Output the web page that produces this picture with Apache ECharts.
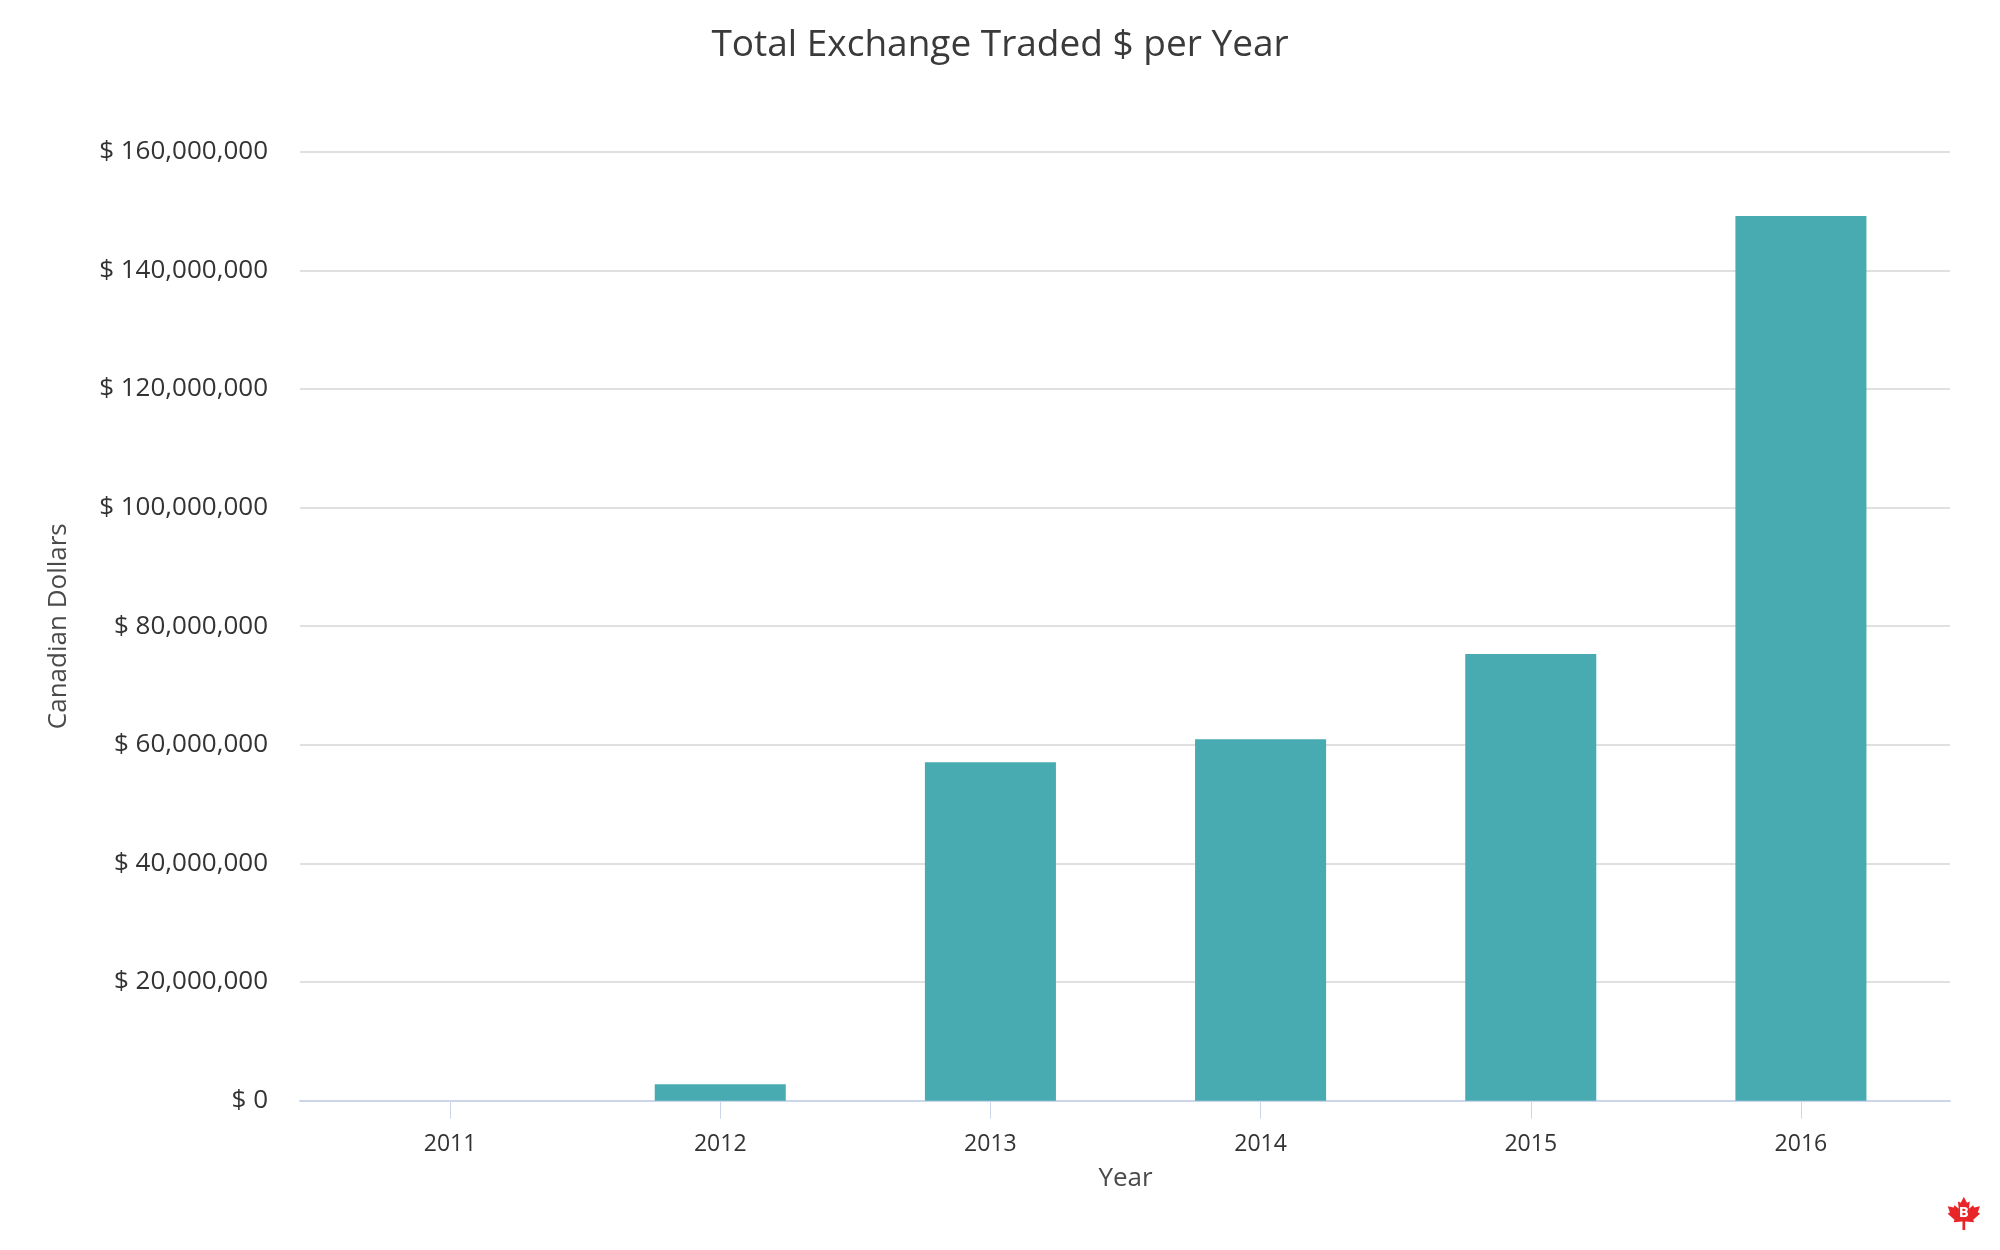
<!DOCTYPE html>
<html>
<head>
<meta charset="utf-8">
<script src="https://cdn.jsdelivr.net/npm/echarts@6/dist/echarts.min.js"></script>
<style>
html,body{margin:0;padding:0;background:#fff;}
#main{width:2000px;height:1250px;}
</style>
</head>
<body>
<div id="main"></div>
<script>
// ---- data ----
const years = ['2011', '2012', '2013', '2014', '2015', '2016'];
const tradedCAD = [0, 2760000, 57050000, 60930000, 75310000, 149160000];
const yMin = 0;
const yMax = 160000000;
const yStep = 20000000;
const chartTitle = 'Total Exchange Traded $ per Year';
const xName = 'Year';
const yName = 'Canadian Dollars';

const FONT = '"Open Sans", Lato, sans-serif';
const TXT = '#333333';

// maple leaf outline (unit coords)
const leaf = [[0,-1],[0.18,-0.65],[0.35,-0.72],[0.3,-0.3],[0.55,-0.5],[0.6,-0.38],[0.95,-0.45],[0.82,-0.1],[0.95,0],[0.55,0.35],[0.6,0.5],[0.08,0.45],[0.08,0.95],[-0.08,0.95],[-0.08,0.45],[-0.6,0.5],[-0.55,0.35],[-0.95,0],[-0.82,-0.1],[-0.95,-0.45],[-0.6,-0.38],[-0.55,-0.5],[-0.3,-0.3],[-0.35,-0.72],[-0.18,-0.65]];

const chart = echarts.init(document.getElementById('main'), null, {renderer: 'canvas'});
chart.setOption({
  backgroundColor: '#ffffff',
  animation: false,
  title: {
    text: chartTitle,
    left: 'center',
    top: 22,
    textStyle: {fontFamily: FONT, fontSize: 37, fontWeight: 'normal', color: '#3a3a3a'}
  },
  grid: [
    {left: 315, right: 64, top: 151.7, bottom: 149.3, containLabel: false},
    {left: 300, right: 50, top: 151.7, bottom: 149.3, containLabel: false}
  ],
  xAxis: [
    {
      type: 'category', gridIndex: 0, data: years,
      axisLine: {show: false},
      axisTick: {show: true, alignWithLabel: true, length: 18, lineStyle: {color: '#ccd6eb', width: 1}},
      axisLabel: {fontFamily: FONT, fontSize: 23, color: TXT, margin: 32},
      splitLine: {show: false},
      name: xName, nameLocation: 'middle', nameGap: 65,
      nameTextStyle: {fontFamily: FONT, fontSize: 26, color: '#4a4a4a'}
    },
    {
      type: 'value', gridIndex: 1, min: 0, max: 1,
      axisLine: {show: true, lineStyle: {color: '#ccd6eb', width: 2}},
      axisTick: {show: false}, axisLabel: {show: false}, splitLine: {show: false}
    }
  ],
  yAxis: [
    {
      type: 'value', gridIndex: 0, min: yMin, max: yMax, interval: yStep,
      show: false, splitLine: {show: false}
    },
    {
      type: 'value', gridIndex: 1, min: yMin, max: yMax, interval: yStep,
      axisLine: {show: false}, axisTick: {show: false},
      axisLabel: {
        fontFamily: FONT, fontSize: 26, color: TXT, margin: 32,
        formatter: v => '$ ' + v.toLocaleString('en-US')
      },
      splitLine: {show: true, lineStyle: {color: '#d6d6d6', width: 1.5}},
      name: yName, nameLocation: 'middle', nameGap: 228, nameRotate: 90,
      nameTextStyle: {fontFamily: FONT, fontSize: 26, color: '#4a4a4a'}
    }
  ],
  series: [{
    type: 'bar',
    xAxisIndex: 0, yAxisIndex: 0,
    data: tradedCAD,
    barWidth: '48.5%',
    itemStyle: {color: '#47abb1', borderWidth: 0},
    z: 3
  }],
  graphic: [{
    type: 'group',
    right: 20, bottom: 20,
    children: [
      {type: 'polygon', shape: {points: leaf.map(p => [p[0]*17 + 17, p[1]*17 + 17])}, style: {fill: '#e8262a'}},
      {type: 'text', x: 17, y: 16, style: {text: 'B', fill: '#ffffff', font: 'bold 15px ' + FONT, textAlign: 'center', textVerticalAlign: 'middle'}}
    ]
  }]
});
</script>
</body>
</html>
